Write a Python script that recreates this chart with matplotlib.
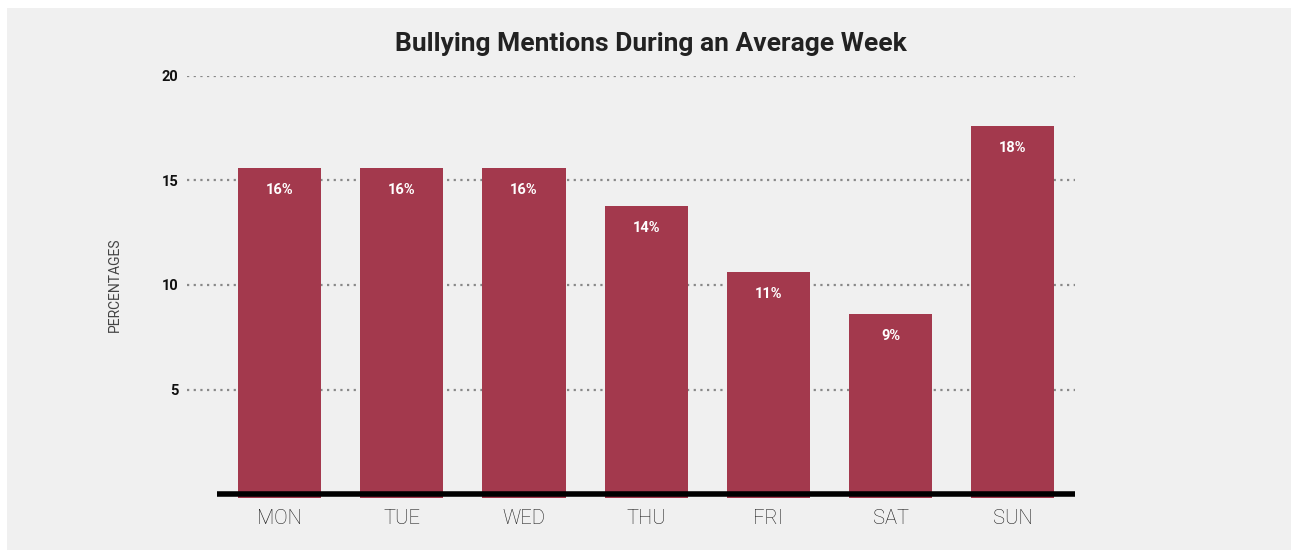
import matplotlib
matplotlib.use("Agg")
import matplotlib.pyplot as plt
from matplotlib.patches import Rectangle

days = ["MON", "TUE", "WED", "THU", "FRI", "SAT", "SUN"]
values = [15.6, 15.6, 15.6, 13.8, 10.6, 8.6, 17.6]
labels = ["16%", "16%", "16%", "14%", "11%", "9%", "18%"]
yticks = [5, 10, 15, 20]

W, H = 1291, 550
fig = plt.figure(figsize=(W / 100, H / 100), dpi=100, facecolor="white")
fig.patches.append(Rectangle((7 / W, 0), 1 - 7 / W, 1 - 8 / H, transform=fig.transFigure,
                             facecolor="#f0f0f0", edgecolor="none", zorder=-10))

# axes spans x 187..1075, y: 0 at 494, 20 at 76
x0, x1 = 187, 1075
ybot, ytop = 494, 76
ax = fig.add_axes([x0 / W, 1 - ybot / H, (x1 - x0) / W, (ybot - ytop) / H])
ax.set_facecolor("none")
ax.set_ylim(0, 20)
ax.set_xlim(-0.758, 6.51)

bar_color = "#a3394d"
xs = list(range(len(days)))
base = -0.2
ax.bar(xs, [v - base for v in values], width=0.68, color=bar_color, zorder=3,
       bottom=base, clip_on=False)

for x, v, lab in zip(xs, values, labels):
    ax.annotate(lab, (x, v), xytext=(0, -22), textcoords="offset pixels",
                ha="center", va="center", color="white", fontsize=10.5, fontweight="bold",
                fontfamily="Roboto", zorder=5)

for t in yticks:
    ax.axhline(t, color="#888888", linestyle=(0, (1, 2)), linewidth=1.6, zorder=1)

ax.plot([-0.51, 6.51], [0, 0], color="black", linewidth=4, solid_capstyle="butt",
        zorder=4, clip_on=False)

ax.set_yticks(yticks)
ax.set_yticklabels([str(t) for t in yticks], fontfamily="Roboto", fontweight="bold",
                   fontsize=10.5, color="#111111")
ax.tick_params(axis="y", length=0, pad=6)
ax.set_xticks(xs)
ax.set_xticklabels(days, fontfamily="Roboto", fontweight="light", fontsize=14.5, color="#1a1a1a")
ax.tick_params(axis="x", length=0, pad=11)
for s in ax.spines.values():
    s.set_visible(False)

fig.text(115 / W, 1 - 285 / H, "PERCENTAGES", rotation=90, ha="center", va="center",
         fontfamily="Roboto", fontsize=10, color="#444444")
fig.text(651 / W, 1 - 44 / H, "Bullying Mentions During an Average Week", ha="center",
         va="center", fontfamily="Roboto", fontweight="bold", fontsize=19, color="#222222")

fig.savefig("out.png", dpi=100, facecolor="white")
